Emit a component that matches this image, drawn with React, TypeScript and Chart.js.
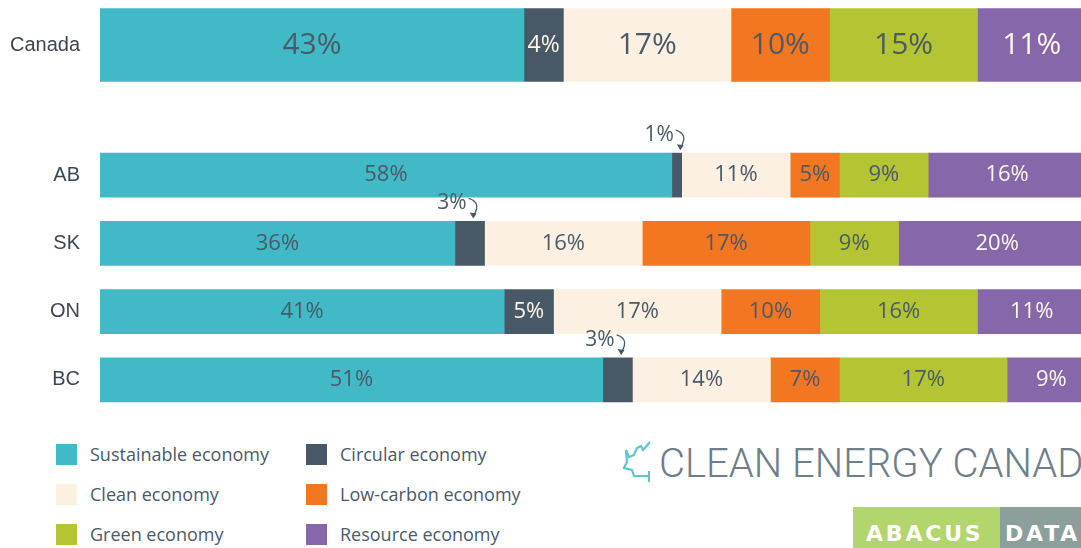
import React, { useEffect, useRef } from "react";
import { Chart, registerables } from "chart.js";

Chart.register(...registerables);

// ---------- data ----------
const regions = ["Canada", "AB", "SK", "ON", "BC"];
const seriesNames = [
  "Sustainable economy",
  "Circular economy",
  "Clean economy",
  "Low-carbon economy",
  "Green economy",
  "Resource economy",
];
const sustainable = [43, 58, 36, 41, 51];
const circular = [4, 1, 3, 5, 3];
const clean = [17, 11, 16, 17, 14];
const lowCarbon = [10, 5, 17, 10, 7];
const green = [15, 9, 9, 16, 17];
const resource = [11, 16, 20, 11, 9];
const seriesValues = [sustainable, circular, clean, lowCarbon, green, resource];

// ---------- styles ----------
const seriesColors = ["#42b9c7", "#495866", "#fbf0e1", "#f37621", "#b4c433", "#8668aa"];
const labelColors = ["#4a5a68", "#fdf6ea", "#4a5a68", "#4a5a68", "#4a5a68", "#fdf6ea"];
const TEXT_DARK = "#4a5a68";
const X_MAX = 99.5;
const VALUE_FONT = '"Open Sans", sans-serif';
const AXIS_FONT = '"Liberation Sans", Arial, sans-serif';

const valueLabels = {
  id: "valueLabels",
  afterDatasetsDraw(chart: any, _args: any, opts: any) {
    const ctx = chart.ctx;
    const size = opts.fontSize;
    chart.data.datasets.forEach((ds: any, di: number) => {
      const meta = chart.getDatasetMeta(di);
      meta.data.forEach((el: any, i: number) => {
        const v = ds.data[i];
        if (v == null) return;
        const p = el.getProps(["x", "y", "base", "height"], true);
        const left = Math.min(p.x, p.base);
        const right = Math.max(p.x, p.base);
        const w = right - left;
        const text = `${v}%`;
        ctx.save();
        ctx.font = `400 ${size}px ${VALUE_FONT}`;
        const tw = ctx.measureText(text).width;
        if (w >= opts.minInside) {
          let fs = size;
          if (tw > w - 6) {
            fs = Math.floor((size * (w - 6)) / tw);
            ctx.font = `400 ${fs}px ${VALUE_FONT}`;
          }
          ctx.fillStyle = labelColors[di];
          ctx.textAlign = "center";
          ctx.textBaseline = "middle";
          ctx.fillText(text, (left + right) / 2, p.y);
        } else {
          const top = p.y - p.height / 2;
          const cx = (left + right) / 2;
          const tx = cx - 3;
          const ty = top - 18;
          ctx.font = `400 ${opts.noteSize}px ${VALUE_FONT}`;
          ctx.fillStyle = TEXT_DARK;
          ctx.textAlign = "right";
          ctx.textBaseline = "middle";
          ctx.fillText(text, tx, ty);
          const sx = tx + 2;
          const sy = ty - 5;
          const ex = tx + 7;
          const ey = top - 6;
          ctx.strokeStyle = TEXT_DARK;
          ctx.lineWidth = 1.3;
          ctx.beginPath();
          ctx.moveTo(sx, sy);
          ctx.quadraticCurveTo(tx + 15, ty - 1, ex, ey);
          ctx.stroke();
          ctx.beginPath();
          ctx.moveTo(ex - 4, ey - 3);
          ctx.lineTo(ex + 3, ey - 2);
          ctx.lineTo(ex - 0.5, ey + 3);
          ctx.closePath();
          ctx.fill();
        }
        ctx.restore();
      });
    });
  },
};

type PanelProps = {
  from: number;
  to: number;
  thickness: number;
  fontSize: number;
  top: number;
  height: number;
  padTop: number;
};

function BarPanel({ from, to, thickness, fontSize, top, height, padTop }: PanelProps) {
  const ref = useRef<HTMLCanvasElement>(null);
  useEffect(() => {
    const chart = new Chart(ref.current as HTMLCanvasElement, {
      type: "bar",
      data: {
        labels: regions.slice(from, to),
        datasets: seriesNames.map((name, i) => ({
          label: name,
          data: seriesValues[i].slice(from, to),
          backgroundColor: seriesColors[i],
          borderWidth: 0,
          barThickness: thickness,
        })),
      },
      options: {
        indexAxis: "y",
        responsive: false,
        maintainAspectRatio: false,
        animation: false,
        layout: { padding: { top: padTop, right: 0, bottom: 0, left: 0 } },
        plugins: {
          legend: { display: false },
          tooltip: { enabled: false },
          valueLabels: { fontSize, noteSize: 21, minInside: 30 },
        } as any,
        scales: {
          x: { stacked: true, min: 0, max: X_MAX, display: false },
          y: {
            stacked: true,
            grid: { display: false, drawTicks: false },
            border: { display: false },
            ticks: {
              color: "#3d4650",
              font: { family: AXIS_FONT, size: 20 },
              padding: 20,
            },
            afterFit: (s: any) => {
              s.width = 100;
              s.paddingTop = 0;
              s.paddingBottom = 0;
            },
          },
        },
      },
      plugins: [valueLabels as any],
    });
    return () => chart.destroy();
  }, []);
  return (
    <canvas
      ref={ref}
      width={1081}
      height={height}
      style={{ position: "absolute", left: 0, top, width: 1081, height, display: "block" }}
    />
  );
}

function Legend() {
  const colX = [56, 306];
  const rowY = [444, 484, 524];
  return (
    <>
      {seriesNames.map((name, i) => {
        const col = i % 2;
        const row = Math.floor(i / 2);
        return (
          <div
            key={name}
            style={{
              position: "absolute",
              left: colX[col],
              top: rowY[row],
              display: "flex",
              alignItems: "center",
              height: 21,
            }}
          >
            <div style={{ width: 21, height: 21, background: seriesColors[i] }} />
            <div
              style={{
                marginLeft: 13,
                fontFamily: VALUE_FONT,
                fontSize: 18,
                color: TEXT_DARK,
                whiteSpace: "nowrap",
                lineHeight: "21px",
              }}
            >
              {name}
            </div>
          </div>
        );
      })}
    </>
  );
}

function Logos() {
  const badgeText = {
    position: "absolute" as const,
    top: 519,
    fontFamily: '"DejaVu Sans", sans-serif',
    fontWeight: 700,
    fontSize: 22,
    lineHeight: "30px",
    letterSpacing: 2.8,
    color: "#ffffff",
    whiteSpace: "nowrap" as const,
  };
  return (
    <>
      <svg
        width={40}
        height={55}
        viewBox="610 435 40 55"
        style={{ position: "absolute", left: 610, top: 435 }}
      >
        <polyline
          points="626,450 629,457 634,455 637,448 641,446 643,450 650,442"
          fill="none"
          stroke="#5ec4d0"
          strokeWidth={2.2}
        />
        <polyline
          points="626,450 627,462 624,468 632,470 634,476 649,476"
          fill="none"
          stroke="#5ec4d0"
          strokeWidth={2.2}
        />
        <line x1={649} y1={471} x2={649} y2={482} stroke="#5ec4d0" strokeWidth={2.2} />
      </svg>
      <div
        style={{
          position: "absolute",
          left: 659,
          top: 444,
          fontFamily: "Roboto, sans-serif",
          fontWeight: 300,
          fontSize: 40,
          lineHeight: "40px",
          color: "#6f7e88",
          whiteSpace: "nowrap",
        }}
      >
        CLEAN ENERGY CANADA
      </div>
      <div
        style={{
          position: "absolute",
          left: 853,
          top: 507,
          width: 147,
          height: 45,
          background: "#b3d56d",
        }}
      />
      <div
        style={{
          position: "absolute",
          left: 1000,
          top: 507,
          width: 120,
          height: 45,
          background: "#8c9f9c",
        }}
      />
      <div style={{ ...badgeText, left: 866 }}>ABACUS</div>
      <div style={{ ...badgeText, left: 1005 }}>DATA</div>
    </>
  );
}

export default function App() {
  return (
    <div
      style={{
        position: "absolute",
        left: 0,
        top: 0,
        width: 1081,
        height: 548,
        overflow: "hidden",
        background: "#ffffff",
      }}
    >
      <BarPanel from={0} to={1} thickness={73} fontSize={30} top={0} height={90} padTop={0} />
      <BarPanel from={1} to={5} thickness={44} fontSize={22} top={100} height={314} padTop={41} />
      <Legend />
      <Logos />
    </div>
  );
}
